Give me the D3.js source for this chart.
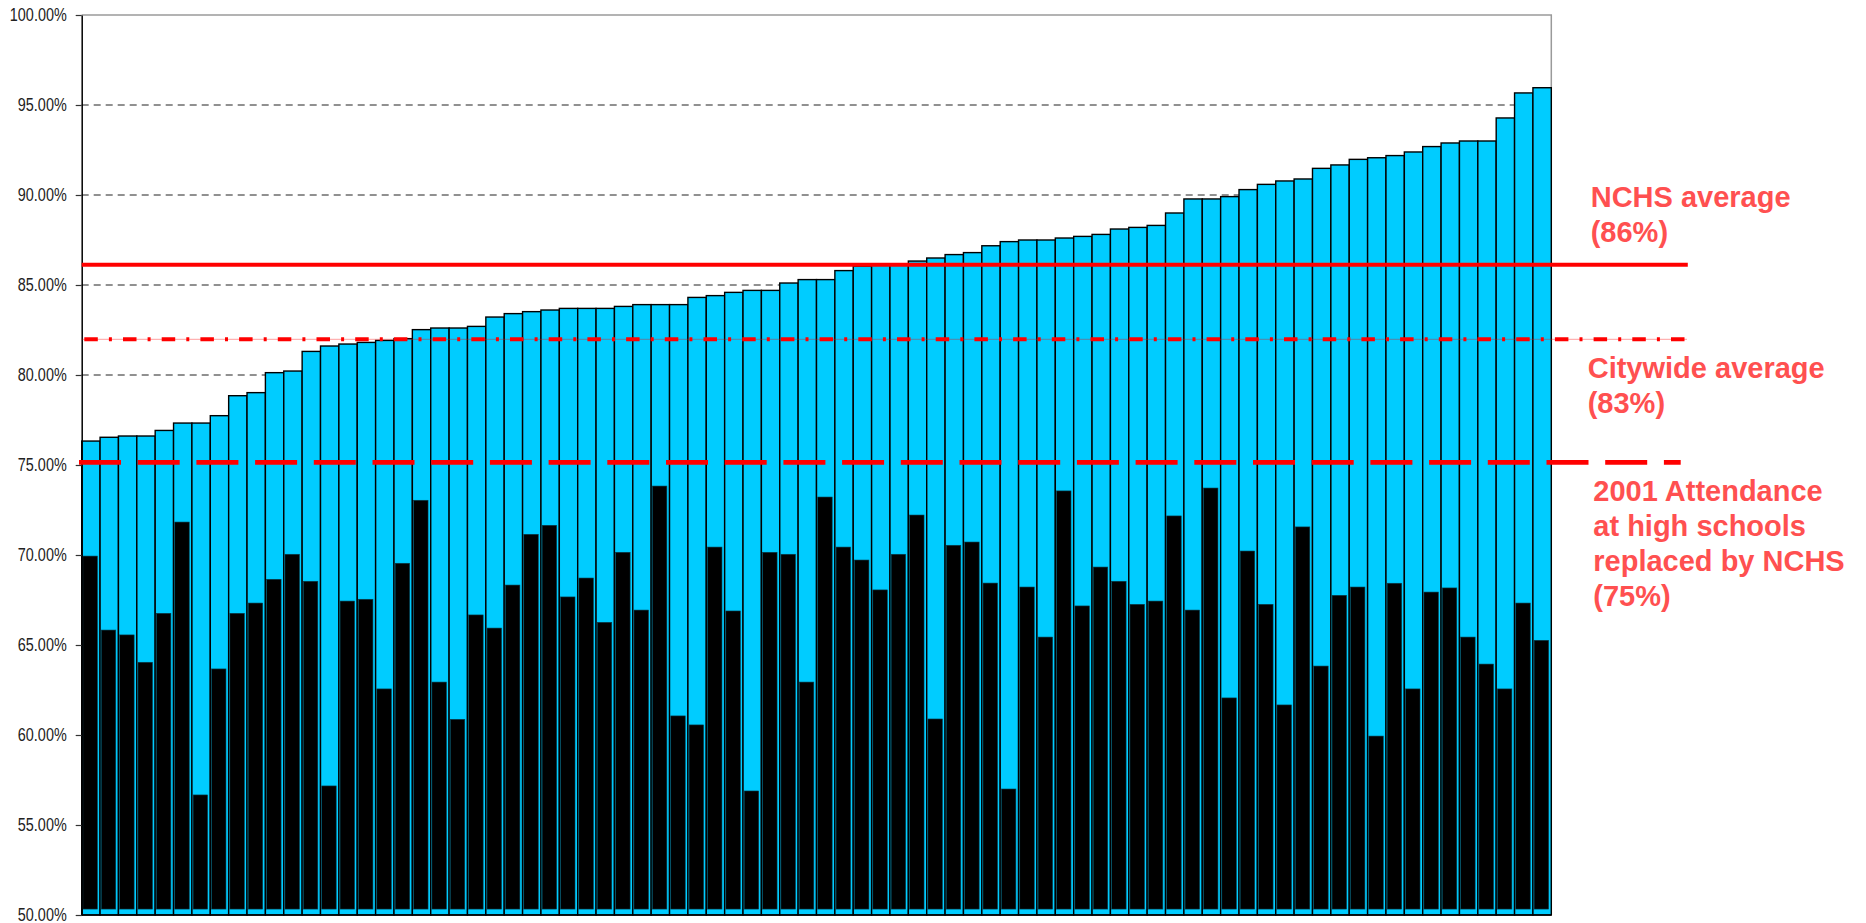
<!DOCTYPE html>
<html>
<head>
<meta charset="utf-8">
<script src="https://cdn.jsdelivr.net/npm/d3@7"></script>
<style>
body { margin: 0; background: #fff; }
.axis text { font-family: "Liberation Sans", Arial, sans-serif; font-size: 18px; fill: #222; }
.ref-label { font-family: "Liberation Sans", Arial, sans-serif; font-weight: bold; font-size: 29px; fill: #ff5050; }
</style>
</head>
<body>
<div id="chart"></div>
<script>

// one bar per school, sorted by current attendance rate
var schools = d3.range(1, 81);

// current attendance rate (blue bars)
var currentRate = [
    76.33, 76.54, 76.61, 76.61, 76.92, 77.33, 77.33, 77.74, 78.85, 79.02,
    80.13, 80.22, 81.31, 81.61, 81.72, 81.81, 81.92, 82.02, 82.52, 82.61,
    82.61, 82.70, 83.22, 83.41, 83.52, 83.61, 83.70, 83.70, 83.70, 83.81,
    83.91, 83.91, 83.91, 84.31, 84.41, 84.59, 84.70, 84.70, 85.11, 85.30,
    85.30, 85.80, 86.05, 86.10, 86.15, 86.33, 86.50, 86.69, 86.80, 87.18,
    87.41, 87.50, 87.50, 87.61, 87.70, 87.81, 88.11, 88.20, 88.31, 89.00,
    89.78, 89.78, 89.91, 90.30, 90.59, 90.78, 90.89, 91.48, 91.67, 91.98,
    92.07, 92.19, 92.39, 92.69, 92.89, 93.00, 93.00, 94.28, 95.67, 95.96
];

// earlier attendance rate (black bars)
var earlierRate = [
    69.94, 65.83, 65.56, 64.04, 66.76, 71.83, 56.67, 63.67, 66.76, 67.33,
    68.65, 70.04, 68.54, 57.17, 67.44, 67.54, 62.56, 69.54, 73.04, 62.94,
    60.87, 66.67, 65.94, 68.33, 71.15, 71.65, 67.67, 68.72, 66.26, 70.15,
    66.94, 73.83, 61.06, 60.56, 70.44, 66.89, 56.89, 70.15, 70.04, 62.94,
    73.22, 70.44, 69.72, 68.06, 70.04, 72.22, 60.89, 70.54, 70.72, 68.44,
    57.00, 68.22, 65.44, 73.56, 67.17, 69.33, 68.54, 67.26, 67.44, 72.17,
    66.94, 73.72, 62.06, 70.22, 67.26, 61.67, 71.56, 63.83, 67.76, 68.22,
    59.94, 68.43, 62.56, 67.94, 68.17, 65.44, 63.94, 62.56, 67.33, 65.26
];

var yTicks = [50, 55, 60, 65, 70, 75, 80, 85, 90, 95, 100];
var yDomain = [50, 100];
var blackBase = 50.33;

// reference lines: NCHS average, citywide average, 2001 attendance
var refValues = [86.13, 81.98, 75.15];
var refLabels = [
    ["NCHS average", "(86%)"],
    ["Citywide average", "(83%)"],
    ["2001 Attendance", "at high schools", "replaced by NCHS", "(75%)"]
];

AttendanceChart = function(_parentElement){
    this.parentElement = _parentElement;
    this.initVis();
}

AttendanceChart.prototype.initVis = function(){
    var vis = this;

    vis.margin = { top: 15, right: 314.7, bottom: 8, left: 81.7 };
    vis.width = 1866 - vis.margin.left - vis.margin.right;
    vis.height = 923 - vis.margin.top - vis.margin.bottom;

    vis.svg = d3.select("#" + vis.parentElement).append("svg")
        .attr("width", 1866)
        .attr("height", 923)
        .append("g")
        .attr("transform", "translate(" + vis.margin.left + "," + vis.margin.top + ")");

    vis.x = d3.scaleBand()
        .domain(schools)
        .range([0, vis.width])
        .padding(0);

    vis.y = d3.scaleLinear()
        .domain(yDomain)
        .range([vis.height, 0]);

    vis.yAxis = d3.axisLeft()
        .scale(vis.y)
        .tickValues(yTicks)
        .tickSize(6)
        .tickSizeOuter(0)
        .tickPadding(9)
        .tickFormat(function(d){ return d.toFixed(2) + "%"; });

    vis.updateVis();
}

AttendanceChart.prototype.updateVis = function(){
    var vis = this;
    var bw = vis.x.bandwidth();

    // dashed gridlines behind the bars
    vis.svg.selectAll(".grid")
        .data(yTicks.filter(function(d){ return d > yDomain[0] && d < yDomain[1]; }))
        .enter().append("line")
        .attr("class", "grid")
        .attr("x1", 0)
        .attr("x2", vis.width)
        .attr("y1", function(d){ return vis.y(d); })
        .attr("y2", function(d){ return vis.y(d); })
        .attr("stroke", "#222")
        .attr("stroke-width", 1)
        .attr("stroke-dasharray", "7,5");

    // frame: gray top and right
    vis.svg.append("path")
        .attr("d", "M0,0H" + vis.width + "V" + vis.height)
        .attr("fill", "none")
        .attr("stroke", "#9a9a9a")
        .attr("stroke-width", 1.5);

    // blue bars
    vis.svg.selectAll(".bar-current")
        .data(currentRate)
        .enter().append("rect")
        .attr("class", "bar-current")
        .attr("x", function(d, i){ return vis.x(schools[i]); })
        .attr("width", bw)
        .attr("y", function(d){ return vis.y(d); })
        .attr("height", function(d){ return vis.y(yDomain[0]) - vis.y(d); })
        .attr("fill", "#00ccff")
        .attr("stroke", "#000")
        .attr("stroke-width", 1.4);

    // black bars
    vis.svg.selectAll(".bar-earlier")
        .data(earlierRate)
        .enter().append("rect")
        .attr("class", "bar-earlier")
        .attr("x", function(d, i){ return vis.x(schools[i]) + 1.2; })
        .attr("width", bw - 3.9)
        .attr("y", function(d){ return vis.y(d); })
        .attr("height", function(d){ return vis.y(blackBase) - vis.y(d); })
        .attr("fill", "#000")
        .attr("stroke", "#0a3a48")
        .attr("stroke-width", 0.6);

    // bottom axis line
    vis.svg.append("line")
        .attr("x1", 0).attr("x2", vis.width)
        .attr("y1", vis.height).attr("y2", vis.height)
        .attr("stroke", "#000")
        .attr("stroke-width", 1.5);

    // y axis
    vis.svg.append("g")
        .attr("class", "y-axis axis")
        .call(vis.yAxis);
    vis.svg.select(".y-axis .domain").attr("stroke", "#000").attr("stroke-width", 1.5);
    vis.svg.selectAll(".y-axis .tick line").attr("stroke", "#333").attr("stroke-width", 1.2);

    // narrow the tick labels (no narrow font installed)
    vis.svg.selectAll(".y-axis .tick text").each(function(){
        var len = this.getComputedTextLength();
        d3.select(this)
            .attr("textLength", len * 0.8)
            .attr("lengthAdjust", "spacingAndGlyphs");
    });

    // reference lines
    var lineEnds = [vis.width + 136.5, vis.width + 135.7, vis.width + 129.4];
    var lineStarts = [0, 2.6, -2.7];
    var dashes = [null, "13.5,11.1,3,11.1", "42,16.7"];
    var widths = [4, 4, 4.7];

    // faint guide under the dash-dot line
    vis.svg.append("line")
        .attr("x1", 0).attr("x2", lineEnds[1])
        .attr("y1", vis.y(refValues[1])).attr("y2", vis.y(refValues[1]))
        .attr("stroke", "#ff0000")
        .attr("stroke-opacity", 0.3)
        .attr("stroke-width", 1.3);

    vis.svg.selectAll(".ref-line")
        .data(refValues)
        .enter().append("line")
        .attr("class", "ref-line")
        .attr("x1", function(d, i){ return lineStarts[i]; })
        .attr("x2", function(d, i){ return lineEnds[i]; })
        .attr("y1", function(d){ return vis.y(d); })
        .attr("y2", function(d){ return vis.y(d); })
        .attr("stroke", "#ff0000")
        .attr("stroke-width", function(d, i){ return widths[i]; })
        .attr("stroke-dasharray", function(d, i){ return dashes[i]; });

    // labels next to each reference line
    var labelX = [vis.width + 39.4, vis.width + 36.4, vis.width + 42];
    var labelDy = [-58, 38.4, 38.4];

    refLabels.forEach(function(lines, i){
        var text = vis.svg.append("text")
            .attr("class", "ref-label")
            .attr("x", labelX[i])
            .attr("y", vis.y(refValues[i]) + labelDy[i]);
        lines.forEach(function(s, j){
            text.append("tspan")
                .attr("x", labelX[i])
                .attr("dy", j == 0 ? 0 : 35)
                .text(s);
        });
    });
}

var chart = new AttendanceChart("chart");
</script>
</body>
</html>
